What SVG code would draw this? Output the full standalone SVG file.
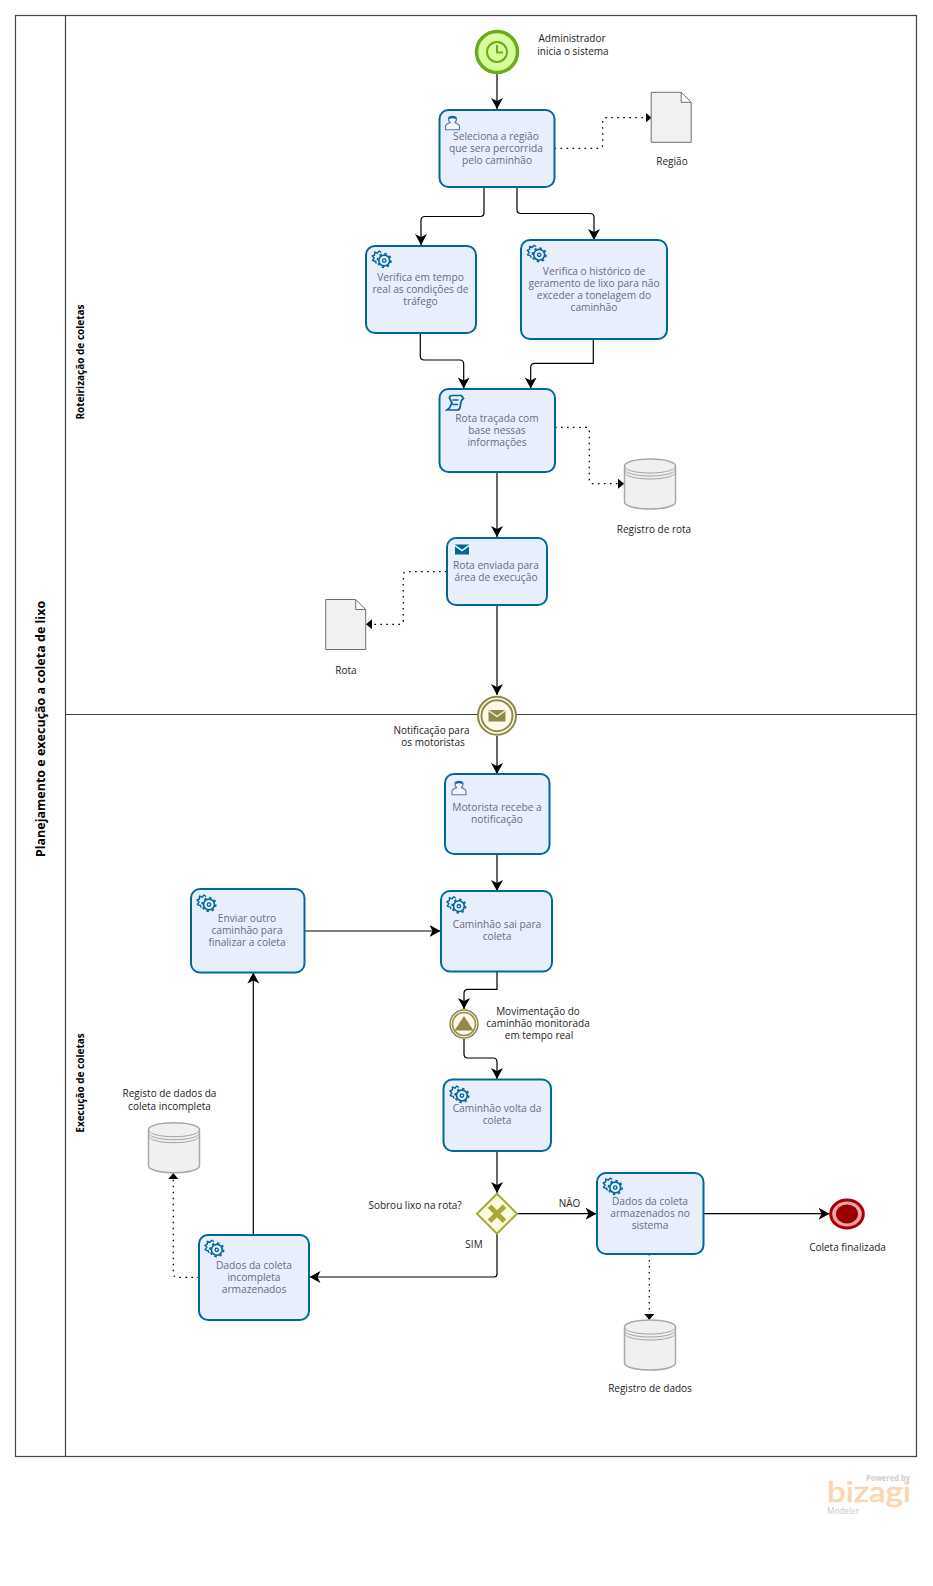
<svg xmlns="http://www.w3.org/2000/svg" xmlns:xlink="http://www.w3.org/1999/xlink" width="933" height="1586" viewBox="0 0 933 1586">
<style>
text{font-family:"Open Sans","Noto Sans","Liberation Sans",sans-serif;font-size:10px;text-anchor:middle}
.t{fill:#666c7a;font-size:10.2px}
.l{fill:#222}
.b{font-weight:700;fill:#000}
.task{fill:#e9eefd;stroke:#00679b;stroke-width:2}
.c{fill:none;stroke:#000;stroke-width:1.2;marker-end:url(#a)}
.d{fill:none;stroke:#000;stroke-width:1.3;stroke-dasharray:1.6 4.4;marker-end:url(#ad)}
.doc{fill:#f1f1f1;stroke:#6e6e6e;stroke-width:1}
.db{fill:#f0f0f0;stroke:#a8a8a8;stroke-width:1.5}
.ic{fill:none;stroke:#00679b}
</style>
<defs>
<marker id="a" markerUnits="userSpaceOnUse" markerWidth="14" markerHeight="14" refX="11" refY="6" orient="auto"><path d="M0 0L11 6L0 12L3 6Z" fill="#000"/></marker>
<marker id="ad" markerUnits="userSpaceOnUse" markerWidth="10" markerHeight="12" refX="6" refY="5" orient="auto"><path d="M0 0L6 5L0 10Z" fill="#000"/></marker>
<g id="gear" class="ic">
<circle cx="2.500" cy="1.500" r="5.400" stroke-width="1.600"/>
<circle cx="2.500" cy="1.500" r="6.800" stroke-width="1.700" stroke-dasharray="2.400 2.940"/>
<circle cx="2.500" cy="1.500" r="1.700" stroke-width="1.300"/>
<path d="M-0.500-6.500L-2.500-8L-4.500-5.800L-7-7L-7-4L-9.500-3L-7.500-1L-9.200 1.500L-6 2.500L-5.500 4.500" stroke-width="1.400" stroke-linejoin="round"/>
</g>
<g id="user">
<path d="M-7 7V3.500C-7 1.500-4.500 1-2.500 0C-4-1.500-4.200-3-4-4.500C-3.500-7 3.500-7 4-4.500C4.200-3 4-1.500 2.500 0C4.500 1 7 1.500 7 3.500V7Z" fill="#f3f5fc" stroke="#4f7aa6" stroke-width="1.100"/>
<path d="M-4-3C-3.500-8 3.500-8 4-3C2-5 -2-5 -4-3Z" fill="#00679b"/>
</g>
<g id="db">
<path class="db" d="M0 7V43C0 47 11 50 25.500 50S51 47 51 43V7C51 3 40 0 25.500 0S0 3 0 7Z"/>
<path d="M0 7C0 11 11 14 25.500 14S51 11 51 7M0 10C0 14 11 17 25.500 17S51 14 51 10M0 13C0 17 11 20 25.500 20S51 17 51 13" fill="none" stroke="#a0a0a0"/>
</g>
<path id="doc" class="doc" d="M0 0H30L40 10V50H0ZM30 0V10H40"/>
</defs>

<g id="pool" fill="none" stroke="#444" stroke-width="1.200">
<rect x="15.500" y="15.500" width="901" height="1441"/>
<path d="M65.500 15.500V1456.500M65.500 714.500H916.500"/>
</g>
<text class="b" transform="translate(44.500 729) rotate(-90)" style="font-size:12.500px">Planejamento e execução a coleta de lixo</text>
<text class="b" transform="translate(84 362) rotate(-90)" style="font-size:10px">Roteirização de coletas</text>
<text class="b" transform="translate(84 1083) rotate(-90)" style="font-size:10px">Execução de coletas</text>

<g id="connectors">
<path class="c" d="M497 74V109"/>
<path class="c" d="M484 187V212.500Q484 216.500 480 216.500H425Q421 216.500 421 220.500V245"/>
<path class="c" d="M517 187V209.500Q517 213.500 521 213.500H590Q594 213.500 594 217.500V240"/>
<path class="c" d="M420.300 333V356Q420.300 360 424.300 360H459.700Q463.700 360 463.700 364V388.500"/>
<path class="c" d="M593.300 339V363.300H534.700Q530.700 363.300 530.700 367.300V388.500"/>
<path class="c" d="M497 472V537"/>
<path class="c" d="M497 605V695"/>
<path class="c" d="M497 736V774"/>
<path class="c" d="M497 854V891"/>
<path class="c" d="M497 971V989.300H468Q464 989.300 464 993.300V1009"/>
<path class="c" d="M464 1039V1054Q464 1058 468 1058H493Q497 1058 497 1062V1079"/>
<path class="c" d="M497 1151V1193"/>
<path class="c" d="M517 1213.700H596.500"/>
<path class="c" d="M497 1234V1274Q497 1277 494 1277H309.500"/>
<path class="c" d="M703.500 1213.700H829.500"/>
<path class="c" d="M253.300 1235V972.500"/>
<path class="c" d="M304.500 931H440.500"/>
<path class="d" d="M554.500 148.300H598.700Q602.700 148.300 602.700 144.300V121.700Q602.700 117.700 606.700 117.700H651.500"/>
<path class="d" d="M555 427.300H585.300Q589.300 427.300 589.300 431.300V479.700Q589.300 483.700 593.300 483.700H624"/>
<path class="d" d="M446.700 571.700H407.300Q403.300 571.700 403.300 575.700V620.300Q403.300 624.300 399.300 624.300H366"/>
<path class="d" d="M649.300 1254V1320"/>
<path class="d" d="M199 1277.300H177.300Q173.300 1277.300 173.300 1273.300V1173"/>
</g>

<g id="start"><circle cx="497" cy="52" r="20.500" fill="#d9ff9c" stroke="#6cab1a" stroke-width="3.500"/><circle cx="497" cy="52" r="10" fill="none" stroke="#6cab1a" stroke-width="2"/><path d="M497 45V52.500H503" fill="none" stroke="#6cab1a" stroke-width="2"/></g>
<text class="l" x="572" y="42">Administrador</text>
<text class="l" x="573" y="54.500">inicia o sistema</text>

<g id="task1"><rect class="task" x="439.500" y="110" width="115" height="77" rx="9"/><use xlink:href="#user" x="452.500" y="122.700"/>
<text class="t" x="496" y="140">Seleciona a região</text><text class="t" x="496" y="152">que sera percorrida</text><text class="t" x="497" y="164">pelo caminhão</text></g>

<g id="doc-regiao"><use xlink:href="#doc" x="651.200" y="92.300"/><text class="l" x="672" y="165">Região</text></g>

<g id="task2"><rect class="task" x="366" y="246" width="110" height="87" rx="9"/><use xlink:href="#gear" x="381.700" y="259"/>
<text class="t" x="420.500" y="281">Verifica em tempo</text><text class="t" x="420.500" y="293">real as condições de</text><text class="t" x="420.500" y="305">tráfego</text></g>

<g id="task3"><rect class="task" x="521" y="240" width="146" height="99" rx="9"/><use xlink:href="#gear" x="536.700" y="253.300"/>
<text class="t" x="594" y="275">Verifica o histórico de</text><text class="t" x="594" y="287">geramento de lixo para não</text><text class="t" x="594" y="299">exceder a tonelagem do</text><text class="t" x="594" y="311">caminhão</text></g>

<g id="task4"><rect class="task" x="439.500" y="389" width="115.500" height="83" rx="9"/>
<path d="M447 410H457Q459.500 410 460 407.500L461 402Q461.500 399.500 463.500 398.500L461.500 395.500H452Q449.500 395.500 449.500 398L452 403L449.500 408ZM452.500 400H458.500M452.500 404.500H458" fill="none" stroke="#00679b" stroke-width="1.700"/>
<text class="t" x="497" y="422">Rota traçada com</text><text class="t" x="497" y="434">base nessas</text><text class="t" x="497" y="446">informações</text></g>

<g id="db-rota"><use xlink:href="#db" x="624.500" y="459"/><text class="l" x="654" y="533">Registro de rota</text></g>

<g id="task5"><rect class="task" x="447" y="538" width="100" height="67" rx="9"/>
<rect x="455" y="544.500" width="14" height="10" fill="#00679b"/><path d="M455 545.500L462 550.500L469 545.500" fill="none" stroke="#fff" stroke-width="1.500"/>
<text class="t" x="496" y="569">Rota enviada para</text><text class="t" x="496" y="581">área de execução</text></g>

<g id="doc-rota"><use xlink:href="#doc" x="325.700" y="599.500"/><text class="l" x="346" y="674">Rota</text></g>

<g id="event-msg"><circle cx="497" cy="715.700" r="19" fill="#fdf8e8" stroke="#8f8a4c" stroke-width="2"/><circle cx="497" cy="715.700" r="15.500" fill="#fdf8e8" stroke="#8f8a4c" stroke-width="2"/>
<rect x="488.500" y="710" width="17" height="11.500" fill="#8f8a4c"/><path d="M488.500 710.500L497 716.500L505.500 710.500" fill="none" stroke="#fdf8e8" stroke-width="1.300"/></g>
<text class="l" x="431.500" y="734">Notificação para</text><text class="l" x="433" y="746">os motoristas</text>

<g id="task6"><rect class="task" x="445" y="774" width="104.500" height="80" rx="9"/><use xlink:href="#user" x="459" y="787.700"/>
<text class="t" x="497" y="811">Motorista recebe a</text><text class="t" x="497" y="823">notificação</text></g>

<g id="task7"><rect class="task" x="441" y="891" width="111" height="80.500" rx="9"/><use xlink:href="#gear" x="456.400" y="904.700"/>
<text class="t" x="497" y="928">Caminhão sai para</text><text class="t" x="497" y="940">coleta</text></g>

<g id="task-enviar"><rect class="task" x="191" y="889" width="113.500" height="83.500" rx="9"/><use xlink:href="#gear" x="206.500" y="903"/>
<text class="t" x="247" y="922">Enviar outro</text><text class="t" x="247" y="934">caminhão para</text><text class="t" x="247" y="945.500">finalizar a coleta</text></g>

<g id="event-tri"><circle cx="464" cy="1024" r="14" fill="#fdf8e8" stroke="#8f8a4c" stroke-width="1.500"/><circle cx="464" cy="1024" r="11.500" fill="#fdf8e8" stroke="#8f8a4c" stroke-width="1.500"/><path d="M454.500 1030.500L464 1016L473.500 1030.500Z" fill="#8f8a4c"/></g>
<text class="l" x="538" y="1015">Movimentação do</text><text class="l" x="538" y="1027">caminhão monitorada</text><text class="l" x="539" y="1039">em tempo real</text>

<g id="task8"><rect class="task" x="443.500" y="1079.500" width="107.500" height="71.500" rx="9"/><use xlink:href="#gear" x="459.400" y="1094"/>
<text class="t" x="497" y="1112">Caminhão volta da</text><text class="t" x="497" y="1124">coleta</text></g>

<g id="gateway"><path d="M497 1193.700L517 1213.700L497 1233.700L477 1213.700Z" fill="#fbfbe0" stroke="#a9a736" stroke-width="2"/><path d="M489.500 1206.200L504.500 1221.200M504.500 1206.200L489.500 1221.200" stroke="#a9a736" stroke-width="5"/></g>
<text class="l" x="415" y="1208.500">Sobrou lixo na rota?</text>
<text class="l" x="569.500" y="1207">NÃO</text>
<text class="l" x="474" y="1248">SIM</text>

<g id="task9"><rect class="task" x="597" y="1173" width="106.500" height="81" rx="9"/><use xlink:href="#gear" x="612.700" y="1186"/>
<text class="t" x="650" y="1205">Dados da coleta</text><text class="t" x="650" y="1217">armazenados no</text><text class="t" x="650" y="1229">sistema</text></g>

<g id="end"><ellipse cx="847" cy="1214" rx="16.300" ry="14" fill="#f3a3a9" stroke="#a80000" stroke-width="3"/><ellipse cx="847" cy="1214" rx="11" ry="9.500" fill="#980000"/><text class="l" x="847.500" y="1251">Coleta finalizada</text></g>

<g id="db-dados"><use xlink:href="#db" x="624.500" y="1320"/><text class="l" x="650" y="1392">Registro de dados</text></g>

<g id="task10"><rect class="task" x="199" y="1235" width="110" height="85" rx="9"/><use xlink:href="#gear" x="214.300" y="1248.300"/>
<text class="t" x="254" y="1268.500">Dados da coleta</text><text class="t" x="254" y="1280.500">incompleta</text><text class="t" x="254" y="1292.500">armazenados</text></g>

<g id="db-incompleta"><use xlink:href="#db" x="148.500" y="1122.700"/><text class="l" x="169.500" y="1097">Registo de dados da</text><text class="l" x="169.500" y="1109.500">coleta incompleta</text></g>

<g id="logo"><text x="888" y="1481" textLength="44" lengthAdjust="spacingAndGlyphs" style="font-size:8.500px;font-weight:700;fill:#cfcfcf">Powered by</text>
<text x="869" y="1501.500" textLength="84" lengthAdjust="spacingAndGlyphs" style="font-size:28px;font-family:Lato,sans-serif;fill:#fbd6ae;stroke:#fbd6ae;stroke-width:.6">bizagi</text>
<text x="843" y="1514" textLength="32" lengthAdjust="spacingAndGlyphs" style="font-size:9px;fill:#c8c8c8">Modeler</text></g>
</svg>
